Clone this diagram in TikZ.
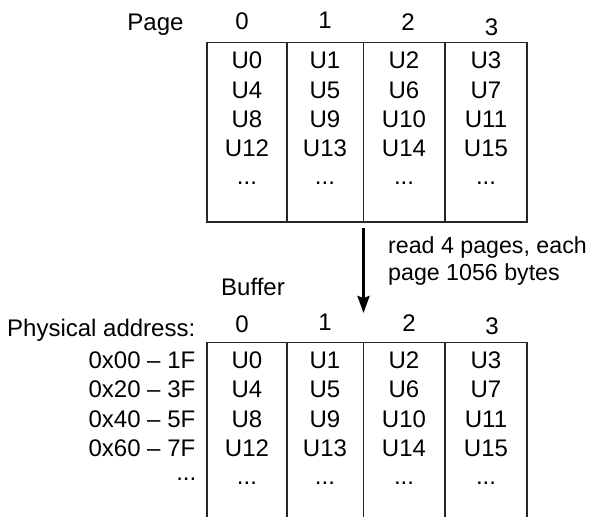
\documentclass[tikz,border=0pt]{standalone}
\usepackage{fontspec}
\setmainfont{Liberation Sans}
\usetikzlibrary{arrows.meta}
\begin{document}
\begin{tikzpicture}[x=1pt,y=-1pt,
  txt/.style={anchor=base,inner sep=0pt,font=\fontsize{24}{29}\selectfont},
  rtxt/.style={anchor=base east,inner sep=0pt,font=\fontsize{24}{29}\selectfont},
  ltxt/.style={anchor=base west,inner sep=0pt,font=\fontsize{23.2}{28}\selectfont},
  gridline/.style={line width=1.1pt, draw=black!85},
  bigarrow/.style={line width=2.6pt, -{Stealth[length=17pt,width=12pt,inset=2pt]}}]
\useasboundingbox (0,0) rectangle (590,517);

% ---------- top table (Page) ----------
\coordinate (tTL) at (207,42.7);
\coordinate (tBR) at (527,222);
\draw[gridline] (tTL) rectangle (tBR);
\foreach \x in {287,363.5,445}{
  \draw[gridline] (\x,42.7) -- (\x,222);
}
\node[txt] (pagelbl) at (155.5,30) {Page};
\node[txt] (th0) at (242,29.3) {0};
\node[txt] (th1) at (325,28.6) {1};
\node[txt] (th2) at (408,30.6) {2};
\node[txt] (th3) at (491.5,35.4) {3};

\foreach \c/\x in {0/247,1/325,2/404,3/486}{
  \foreach \r in {0,1,2,3}{
    \pgfmathtruncatemacro{\u}{4*\r+\c}
    \pgfmathsetmacro{\yy}{68.6+29.4*\r}
    \node[txt] (tc-\r-\c) at (\x,\yy) {U\u};
  }
  \node[txt] (tc-4-\c) at (\x,184) {...};
}

% ---------- arrow and its label ----------
\coordinate (arrS) at (363.5,228);
\coordinate (arrE) at (363.5,313);
\draw[bigarrow] (arrS) -- (arrE);
\node[ltxt] (rd1) at (388,253) {read 4 pages, each};
\node[ltxt] (rd2) at (388,280) {page 1056 bytes};

% ---------- bottom table (Buffer) ----------
\node[txt] (buflbl) at (253,295) {Buffer};
\node[rtxt] (phys) at (195.5,336) {Physical address:};
\node[txt] (bh0) at (242,332) {0};
\node[txt] (bh1) at (325,330) {1};
\node[txt] (bh2) at (409,331.5) {2};
\node[txt] (bh3) at (492,334.5) {3};

\draw[gridline] (207,517) -- (207,342.3) -- (527,342.3) -- (527,517);
\foreach \x in {287,363.5,445}{
  \draw[gridline] (\x,342.3) -- (\x,517);
}

\foreach \c/\x in {0/247,1/325,2/404,3/486}{
  \foreach \r in {0,1,2,3}{
    \pgfmathtruncatemacro{\u}{4*\r+\c}
    \pgfmathsetmacro{\yy}{368.6+29.3*\r}
    \node[txt] (bc-\r-\c) at (\x,\yy) {U\u};
  }
  \node[txt] (bc-4-\c) at (\x,484) {...};
}

\node[rtxt] (ad0) at (195.5,368.6) {0x00 – 1F};
\node[rtxt] (ad1) at (195.5,397.9) {0x20 – 3F};
\node[rtxt] (ad2) at (195.5,427.2) {0x40 – 5F};
\node[rtxt] (ad3) at (195.5,456.5) {0x60 – 7F};
\node[rtxt] (ad4) at (196.5,480) {...};
\end{tikzpicture}
\end{document}
